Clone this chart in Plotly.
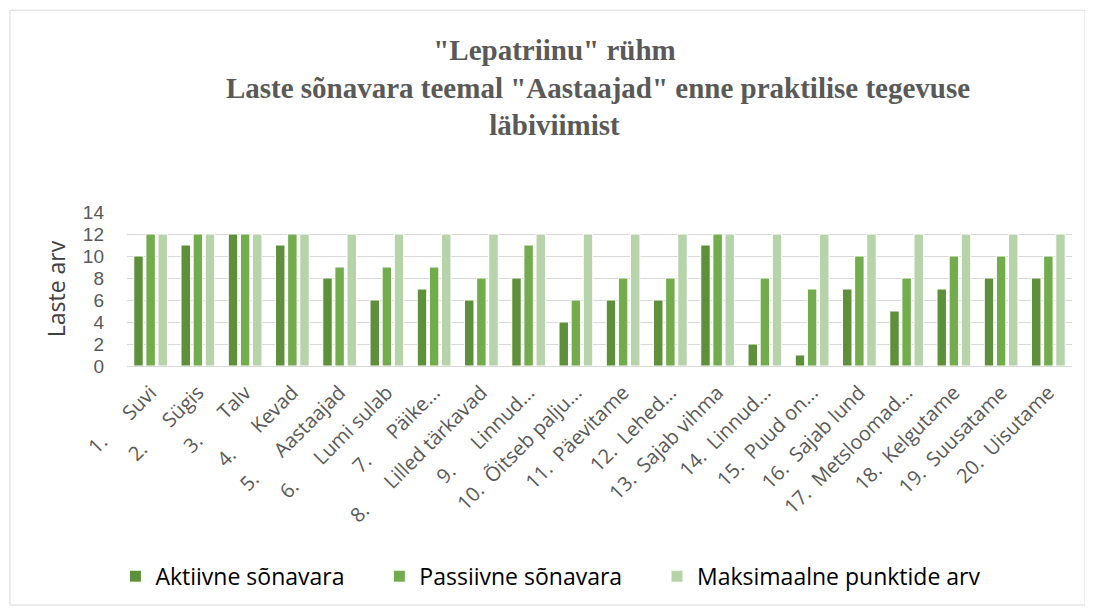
import plotly.graph_objects as go

NB = "\u00a0"

labels = [
    "1." + NB * 6 + "Suvi",
    "2." + NB * 6 + "Sügis",
    "3." + NB * 6 + "Talv",
    "4." + NB * 6 + "Kevad",
    "5." + NB * 6 + "Aastaajad",
    "6." + NB * 6 + "Lumi sulab",
    "7." + NB * 6 + "Päike...",
    "8." + NB * 6 + "Lilled tärkavad",
    "9." + NB * 6 + "Linnud...",
    "10." + NB * 2 + "Õitseb palju...",
    "11." + NB * 2 + "Päevitame",
    "12." + NB * 2 + "Lehed...",
    "13." + NB * 2 + "Sajab vihma",
    "14." + NB * 2 + "Linnud...",
    "15." + NB * 2 + "Puud on...",
    "16." + NB * 2 + "Sajab lund",
    "17." + NB * 2 + "Metsloomad...",
    "18." + NB * 2 + "Kelgutame",
    "19." + NB * 2 + "Suusatame",
    "20." + NB * 2 + "Uisutame",
]
aktiivne = [10, 11, 12, 11, 8, 6, 7, 6, 8, 4, 6, 6, 11, 2, 1, 7, 5, 7, 8, 8]
passiivne = [12, 12, 12, 12, 9, 9, 9, 8, 11, 6, 8, 8, 12, 8, 7, 10, 8, 10, 10, 10]
maksimaalne = [12] * 20

series = [
    ("Aktiivne sõnavara", aktiivne, "#5E8F3A"),
    ("Passiivne sõnavara", passiivne, "#72AC4D"),
    ("Maksimaalne punktide arv", maksimaalne, "#B6D3AA"),
]

fig = go.Figure()
for name, vals, color in series:
    fig.add_trace(go.Bar(x=labels, y=vals, name=name + NB * 5,
                         marker=dict(color=color, line=dict(color="white", width=1))))

title_text = ('"Lepatriinu" rühm<br>' + NB * 12 +
              'Laste sõnavara teemal "Aastaajad" enne praktilise tegevuse<br>läbiviimist')

fig.update_layout(
    width=1093, height=611,
    paper_bgcolor="white", plot_bgcolor="white",
    margin=dict(l=119, r=29, t=204, b=253),
    barmode="group", bargap=0.23, bargroupgap=0.22,
    font=dict(family="Open Sans", color="#595959"),
    title=dict(
        text=title_text,
        x=0.5, xanchor="center", y=0.915, yanchor="top",
        font=dict(family="Liberation Serif", size=29, color="#595959", weight="bold"),
    ),
    legend=dict(orientation="h", x=0.51, xanchor="center", xref="container",
                y=0.07, yanchor="middle", yref="container",
                font=dict(family="Open Sans", size=23, color="#000000"),
                itemwidth=30, traceorder="normal", bgcolor="rgba(0,0,0,0)"),
    showlegend=True,
)
fig.update_yaxes(range=[0, 14], dtick=2, showgrid=True, gridcolor="#D9D9D9", gridwidth=1,
                 zeroline=False, showline=False, ticks="", automargin=False,
                 ticklabelstandoff=22,
                 tickfont=dict(family="Liberation Sans", size=19, color="#595959"),
                 title=dict(text="Laste arv", font=dict(size=23, color="#404040"), standoff=10))
fig.update_xaxes(tickangle=-45, tickfont=dict(size=20, color="#595959"), automargin=False,
                 ticklabelstandoff=6,
                 showline=True, linecolor="#D9D9D9", linewidth=1, ticks="")

fig.add_shape(type="rect", xref="paper", yref="paper",
              x0=-0.1238, x1=1.0138, y0=-1.552, y1=2.31,
              line=dict(color="#D9D9D9", width=1), fillcolor="rgba(0,0,0,0)", layer="below")

fig.write_html("out.html")
